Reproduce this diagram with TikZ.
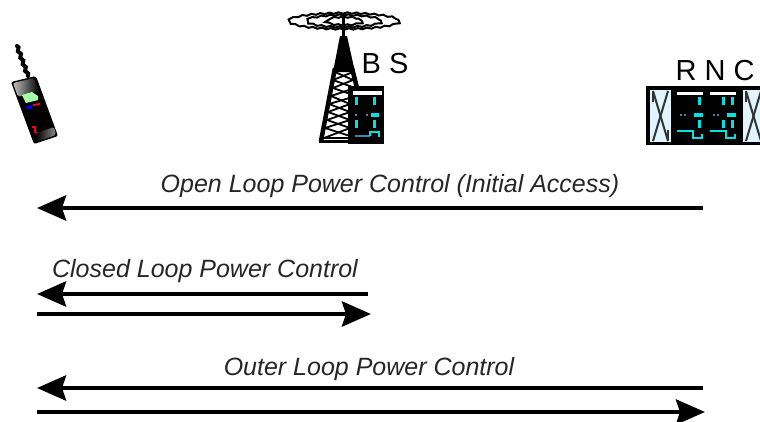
\documentclass[tikz,border=0pt]{standalone}
\usepackage{fontspec}
\setmainfont{Liberation Sans}
\usetikzlibrary{arrows.meta,%
		decorations.pathmorphing}

\definecolor{bitcyan}{RGB}{0,225,225}
\definecolor{dimcyan}{RGB}{70,130,170}

\tikzset{
  powerarrow/.style={line width=4.5pt,-{Stealth[length=29pt,width=25pt,inset=4pt]}},
  looplabel/.style={font=\fontsize{25}{25}\selectfont\itshape,text=black!85},
  unitlabel/.style={font=\fontsize{29}{29}\selectfont,text=black},
  cyanbit/.style={fill=bitcyan,draw=none},
  dimbit/.style={fill=dimcyan,draw=none},
  whitebit/.style={fill=white,draw=none},
  dish/.style={line width=2pt,decorate,decoration={zigzag,segment length=9pt,amplitude=0.7pt}},
}

\begin{document}
\begin{tikzpicture}[x=1pt,y=-1pt]

  \useasboundingbox (0,0) rectangle (760,421);

  % phone
  \draw[line width=4pt,line cap=round,decorate,decoration={zigzag,segment length=7pt,amplitude=1pt}] (17,46)--(28,76);
  \fill[black,rounded corners=2pt] (11,82)--(36,76)--(58,136)--(34,144)--cycle;
  \shade[left color=black!25,right color=black,rounded corners=2pt] (13,83)--(34,78)--(39,91)--(18,97)--cycle;
  \shade[left color=black,right color=black!45,rounded corners=2pt] (36,133)--(54,127)--(56,135)--(36,142)--cycle;
  \fill[green!35!white,draw=none] (22,95)--(32,92)--(38,96)--(38,100)--(26,103)--cycle;
  \fill[blue] (26,106)--(33,105)--(31,109)--(27,109)--cycle;
  \fill[red] (33,104)--(40,103)--(40,105)--(33,106)--cycle;
  \draw[red,line width=1.6pt] (32,127)--(35,127)--(35,132)--(37,133);

  % tower
  \draw[dish] (344,21) ellipse [x radius=55,y radius=8];
  \draw[dish] (344,21) ellipse [x radius=37,y radius=6];
  \draw[dish] (344,21) ellipse [x radius=18,y radius=4];
  \draw[line width=3pt] (343,14)--(343,40);
  \fill (340,36)--(347,36)--(355,72)--(333,72)--cycle;
  \draw[line width=4.5pt] (335,68)--(321,141);
  \draw[line width=4.5pt] (352,68)--(360,100);
  \draw[line width=1.8pt] (335,72)--(353,80)--(333,88)--(356,96)--(329,104)--(350,112)--(327,120)--(350,128)--(324,138)--(350,138);
  \draw[line width=1.8pt] (353,72)--(333,80)--(355,88)--(331,96)--(350,104)--(328,112)--(350,120)--(325,128)--(350,136);
  \draw[line width=3pt] (319,141)--(350,141);

  % cabinet of the base station
  \fill (348,86) rectangle (384,144);
  \fill[whitebit] (353,91) rectangle (382,95);
  \foreach \xbar in {355,373}{
    \fill[cyanbit] (\xbar,97) rectangle (\xbar+2.5,105);
    \fill[cyanbit] (\xbar,120) rectangle (\xbar+2.5,128);
  }
  \fill[cyanbit] (371,113) rectangle (379,117);
  \fill[dimbit] (355,114) rectangle (357,116);
  \fill[dimbit] (366,114) rectangle (368,116);
  \fill[dimbit] (355,135) rectangle (370,137);
  \draw[bitcyan,line width=1.4pt] (370,136)--(370,132)--(379,132)--(379,137);
  \node[unitlabel] (bs) at (385,64) {B S};

  % rnc
  \draw[line width=1.5pt,fill=black] (647,87) rectangle (760,144);
  \foreach \xbox in {650,743}{
    \fill[cyan!12] (\xbox,90) rectangle (\xbox+21,142);
    \draw[line width=2pt,black!80] (\xbox+3,91)--(\xbox+18,141);
    \draw[line width=2pt,black!80] (\xbox+18,91)--(\xbox+3,141);
    \draw[line width=2pt,black!80] (\xbox+3,91)--(\xbox+3,102);
    \draw[line width=2pt,black!80] (\xbox+18,130)--(\xbox+18,141);
  }
  \foreach \xcab in {677,710}{
    \fill[whitebit] (\xcab,92) rectangle (\xcab+26,95);
    \fill[cyanbit] (\xcab+21,97) rectangle (\xcab+23.5,105);
    \fill[cyanbit] (\xcab+21,120) rectangle (\xcab+23.5,128);
    \fill[cyanbit] (\xcab+17,113) rectangle (\xcab+26,117);
    \fill[dimbit] (\xcab+3,114) rectangle (\xcab+5,116);
    \fill[dimbit] (\xcab+7,114) rectangle (\xcab+9,116);
    \fill[cyanbit] (\xcab,130) rectangle (\xcab+17,132);
    \draw[bitcyan,line width=1.4pt] (\xcab+16,131)--(\xcab+16,138)--(\xcab+25,138)--(\xcab+25,134);
  }
  \fill[cyanbit] (722,97) rectangle (724.5,105);
  \fill[cyanbit] (722,120) rectangle (724.5,128);
  \node[unitlabel] (rnc) at (715,71) {R N C};

  % arrows
  \node[looplabel] (open) at (390,186) {Open Loop Power Control (Initial Access)};
  \node[looplabel] (closed) at (205,271) {Closed Loop Power Control};
  \node[looplabel] (outer) at (369,369) {Outer Loop Power Control};

  \coordinate (openr) at (703,208);
  \coordinate (openl) at (37,208);
  \coordinate (closedar) at (368,294);
  \coordinate (closedal) at (37,294);
  \coordinate (closedbl) at (37,314);
  \coordinate (closedbr) at (371,314);
  \coordinate (outerar) at (703,388);
  \coordinate (outeral) at (37,388);
  \coordinate (outerbl) at (37,412);
  \coordinate (outerbr) at (705,412);

  \draw[powerarrow] (openr)--(openl);
  \draw[powerarrow] (closedar)--(closedal);
  \draw[powerarrow] (closedbl)--(closedbr);
  \draw[powerarrow] (outerar)--(outeral);
  \draw[powerarrow] (outerbl)--(outerbr);

\end{tikzpicture}
\end{document}
